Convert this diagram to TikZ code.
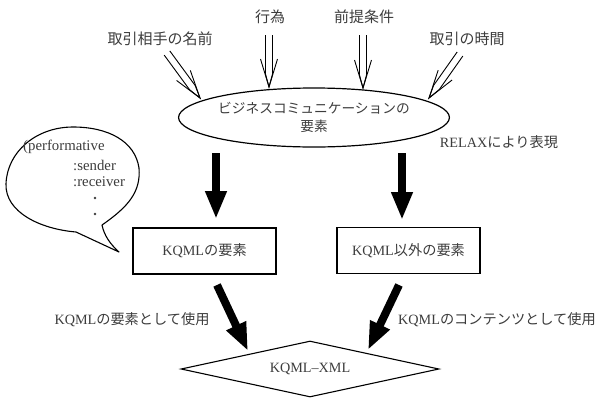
\documentclass[tikz,border=0pt]{standalone}
\usepackage{fontspec}
\setmainfont{Liberation Serif}
\newfontfamily\cjk{Noto Sans CJK JP}
\usetikzlibrary{shapes.geometric,arrows.meta,calc}
\definecolor{txtc}{RGB}{60,60,60}
\tikzset{
  lab/.style={text=txtc, font=\fontsize{15}{18}\selectfont, inner sep=0pt},
  tx/.style={text=txtc, font=\fontsize{14.2}{19}\selectfont, inner sep=0pt},
  btx/.style={text=txtc, font=\fontsize{14.8}{19}\selectfont, inner sep=0pt},
  ellnode/.style={draw, ellipse, line width=1.2pt, minimum width=254pt, minimum height=59pt, inner sep=0pt, align=center, text=txtc, font=\fontsize{13.7}{19}\selectfont},
  boxnode/.style={draw, line width=1.1pt, minimum width=143pt, minimum height=46pt, inner sep=0pt, text=txtc, font=\fontsize{14.2}{19}\selectfont},
  dianode/.style={draw, diamond, aspect=4.6, line width=1.1pt, minimum width=258pt, minimum height=56pt, inner sep=0pt, text=txtc, font=\fontsize{14.2}{19}\selectfont},
  dbl/.style={line width=0.9pt, line join=miter},
  fat/.style={line width=8pt, -{Triangle[length=28pt,width=20pt]}},
  bubble/.style={line width=1.1pt, line join=round},
}
\newcommand\dblarr[2]{%
  \draw[dbl] ($(#1)!3.5pt!90:(#2)$) -- ($(#2)!13pt!(#1)!3.5pt!90:(#2)$) -- (#2)
             -- ($(#2)!13pt!(#1)!3.5pt!-90:(#2)$) -- ($(#1)!3.5pt!-90:(#2)$);
  \draw[dbl] ($(#2)!28pt!(#1)!8.5pt!90:(#2)$) -- (#2) -- ($(#2)!28pt!(#1)!8.5pt!-90:(#2)$);
}
\begin{document}
\begin{tikzpicture}[x=1pt,y=-1pt]
\useasboundingbox (0,0) rectangle (599,402);

% top labels
\node[lab] (l1) at (160,39) {\cjk 取引相手の名前};
\node[lab] (l2) at (270,17) {\cjk 行為};
\node[lab] (l3) at (364,17) {\cjk 前提条件};
\node[lab] (l4) at (467,39) {\cjk 取引の時間};

% central ellipse
\node[ellnode] (ell) at (314,117.5) {\cjk ビジネスコミュニケーションの\\[-1pt]\cjk 要素};
\node[tx] (relax) at (499,142) {RELAX{\cjk により表現}};

% boxes
\node[boxnode] (lbox) at (204.5,251) {KQML{\cjk の要素}};
\node[boxnode] (rbox) at (408.5,250.5) {KQML{\cjk 以外の要素}};

% diamond
\node[dianode] (kx) at (310,369) {KQML--XML};

% usage labels
\node[tx] (u1) at (132,320) {KQML{\cjk の要素として使用}};
\node[tx] (u2) at (497,320) {KQML{\cjk のコンテンツとして使用}};

% double arrows into ellipse
\coordinate (a1s) at (167,53);  \coordinate (a1t) at (200,98);
\coordinate (a2s) at (269,35);  \coordinate (a2t) at (269,87);
\coordinate (a3s) at (363,35);  \coordinate (a3t) at (363,88);
\coordinate (a4s) at (460,54);  \coordinate (a4t) at (429,98);
\dblarr{a1s}{a1t}
\dblarr{a2s}{a2t}
\dblarr{a3s}{a3t}
\dblarr{a4s}{a4t}

% thick arrows
\coordinate (b1s) at (216,153); \coordinate (b1t) at (216,219);
\coordinate (b2s) at (402,153); \coordinate (b2t) at (402,220);
\coordinate (c1s) at (217,285); \coordinate (c1t) at (248,351);
\coordinate (c2s) at (399,285); \coordinate (c2t) at (368,350);
\draw[fat] (b1s) -- (b1t);
\draw[fat] (b2s) -- (b2t);
\draw[fat] (c1s) -- (c1t);
\draw[fat] (c2s) -- (c2t);

% speech bubble
\draw[bubble] (102,225) .. controls (128,207) and (141,192) .. (139,168)
  .. controls (135,141) and (108,127) .. (73,127)
  .. controls (36,127) and (7,152) .. (6,184)
  .. controls (5,212) and (40,229) .. (76,232)
  -- (119,252)
  .. controls (110,244) and (104,235) .. (102,225) -- cycle;
\node[btx, anchor=west] (p1) at (23,147) {(performative};
\node[btx, anchor=west] (p2) at (73,165) {:sender};
\node[btx, anchor=west] (p3) at (73,182) {:receiver};
\fill[txtc] (95,198) circle (1.4pt);
\fill[txtc] (95,214) circle (1.4pt);
\end{tikzpicture}
\end{document}
